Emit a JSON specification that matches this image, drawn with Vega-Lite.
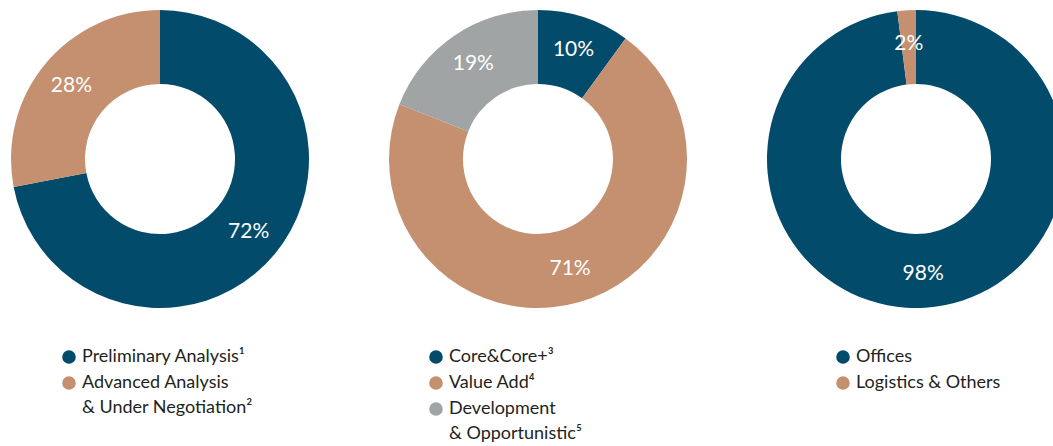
{
  "$schema": "https://vega.github.io/schema/vega-lite/v6.json",
  "width": 1053,
  "height": 446,
  "autosize": {"type": "none"},
  "padding": 0,
  "background": "white",
  "config": {
    "view": {"stroke": null},
    "font": "Lato",
    "legend": {
      "orient": "none",
      "title": null,
      "labelFont": "Lato",
      "labelFontSize": 18,
      "labelFontWeight": 400,
      "labelColor": "#231F20",
      "symbolType": "circle",
      "symbolSize": 185,
      "symbolStrokeWidth": 0,
      "symbolOpacity": 1,
      "rowPadding": 8,
      "labelOffset": 4,
      "labelLimit": 400
    },
    "style": {"guide-label": {"lineHeight": 25}}
  },
  "encoding": {
    "x": {"field": "chart", "type": "nominal", "axis": null,
          "scale": {"type": "point", "domain": ["a", "b", "c"], "padding": 0.3929, "align": 0.5387}},
    "y": {"datum": "c", "type": "nominal", "axis": null,
          "scale": {"type": "point", "domain": ["c"], "padding": 0, "align": 0.3565}},
    "theta": {"field": "value", "type": "quantitative", "stack": true, "scale": {"domain": [0, 1]}},
    "order": {"field": "idx", "type": "quantitative"}
  },
  "layer": [
    {
      "data": {"values": [
        {"chart": "a", "cat": "Preliminary Analysis¹", "value": 0.72, "idx": 1},
        {"chart": "a", "cat": "Advanced Analysis & Under Negotiation²", "value": 0.28, "idx": 2}
      ]},
      "layer": [
        {
          "mark": {"type": "arc", "radius": 149, "innerRadius": 75},
          "encoding": {
            "color": {"field": "cat", "type": "nominal",
              "scale": {"domain": ["Preliminary Analysis¹", "Advanced Analysis & Under Negotiation²"], "range": ["#034B6B", "#C4906F"]},
              "legend": {"legendX": 60, "legendY": 348,
                "labelExpr": "datum.label == 'Advanced Analysis & Under Negotiation²' ? ['Advanced Analysis', '& Under Negotiation²'] : datum.label"}}
          }
        },
        {
          "mark": {"type": "text", "radius": 115, "font": "Lato", "fontSize": 21, "fontWeight": 400, "color": "#FFFFFF"},
          "encoding": {"text": {"field": "value", "type": "quantitative", "format": ".0%"}}
        }
      ]
    },
    {
      "data": {"values": [
        {"chart": "b", "cat": "Core&Core+³", "value": 0.10, "idx": 1},
        {"chart": "b", "cat": "Value Add⁴", "value": 0.71, "idx": 2},
        {"chart": "b", "cat": "Development & Opportunistic⁵", "value": 0.19, "idx": 3}
      ]},
      "layer": [
        {
          "mark": {"type": "arc", "radius": 149, "innerRadius": 75},
          "encoding": {
            "color": {"field": "cat", "type": "nominal",
              "scale": {"domain": ["Core&Core+³", "Value Add⁴", "Development & Opportunistic⁵"], "range": ["#034B6B", "#C4906F", "#A0A4A5"]},
              "legend": {"legendX": 427, "legendY": 348,
                "labelExpr": "datum.label == 'Development & Opportunistic⁵' ? ['Development', '& Opportunistic⁵'] : datum.label"}}
          }
        },
        {
          "mark": {"type": "text", "radius": 115, "font": "Lato", "fontSize": 21, "fontWeight": 400, "color": "#FFFFFF"},
          "encoding": {"text": {"field": "value", "type": "quantitative", "format": ".0%"}}
        }
      ]
    },
    {
      "data": {"values": [
        {"chart": "c", "cat": "Offices", "value": 0.98, "idx": 1},
        {"chart": "c", "cat": "Logistics & Others", "value": 0.02, "idx": 2}
      ]},
      "layer": [
        {
          "mark": {"type": "arc", "radius": 149, "innerRadius": 75},
          "encoding": {
            "color": {"field": "cat", "type": "nominal",
              "scale": {"domain": ["Offices", "Logistics & Others"], "range": ["#034B6B", "#C4906F"]},
              "legend": {"legendX": 834, "legendY": 348}}
          }
        },
        {
          "mark": {"type": "text", "radius": 115, "font": "Lato", "fontSize": 21, "fontWeight": 400, "color": "#FFFFFF"},
          "encoding": {"text": {"field": "value", "type": "quantitative", "format": ".0%"}}
        }
      ]
    }
  ],
  "resolve": {"scale": {"color": "independent"}}
}
